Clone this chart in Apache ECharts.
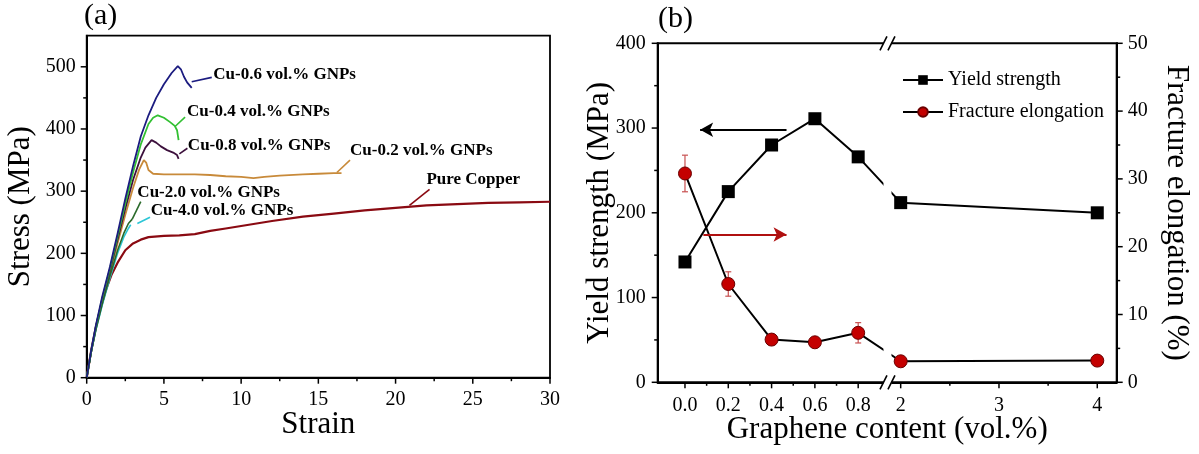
<!DOCTYPE html>
<html>
<head>
<meta charset="utf-8">
<script src="https://cdn.jsdelivr.net/npm/echarts@6/dist/echarts.min.js"></script>
<style>
  html, body { margin: 0; padding: 0; background: #fff; }
  #main { width: 1199px; height: 454px; }
</style>
</head>
<body>
<div id="main"></div>
<script>
// ---- panel (a): stress-strain curves, [strain, stress MPa] ----
const pureCopper = [[0,0],[0.3,45],[0.6,82],[0.9,112],[1.2,138],[1.6,165],[2,185],[2.5,205],[3,216],[3.5,222],[4,226],[5,228],[6,229],[7,231],[8,236],[9,240],[10,244],[12,252],[14,259],[16,264],[18,269],[20,273],[22,277],[24,279],[26,281],[28,282],[30,283]];
const cu02 = [[0,0],[0.3,43],[0.6,80],[1,122],[1.5,168],[2,216],[2.5,262],[3,305],[3.4,335],[3.7,350],[3.85,346],[4,334],[4.3,328],[5,327],[6,327],[7,327],[8,326],[9,324],[10,323],[10.8,321],[11.5,323],[12.5,325],[14,327],[15,328],[16,329],[16.5,329]];
const cu04 = [[0,0],[0.3,44],[0.6,83],[1,127],[1.5,175],[2,227],[2.5,280],[3,330],[3.5,375],[4,408],[4.3,418],[4.6,422],[5,418],[5.4,411],[5.7,405],[5.85,398],[5.95,382]];
const cu06 = [[0,0],[0.3,45],[0.6,85],[1,130],[1.5,178],[2,232],[2.5,288],[3,340],[3.5,388],[4,422],[4.5,450],[5,472],[5.5,490],[5.9,501],[6.1,496],[6.3,484],[6.5,475],[6.8,466]];
const cu08 = [[0,0],[0.3,44],[0.6,82],[1,125],[1.5,172],[2,222],[2.5,272],[3,318],[3.5,354],[3.8,370],[4.2,382],[4.5,378],[4.8,372],[5.2,366],[5.6,362],[5.85,358],[5.95,352]];
const cu20 = [[0,0],[0.3,42],[0.6,78],[1,118],[1.5,163],[2,205],[2.4,232],[2.7,248],[2.95,255]];
const cu40 = [[0,0],[0.3,42],[0.6,77],[1,116],[1.5,160],[2,200],[2.4,226],[2.7,240],[2.85,246]];

const strainTicks = [0, 5, 10, 15, 20, 25, 30];
const strainMinor = [2.5, 7.5, 12.5, 17.5, 22.5, 27.5];
const stressTicks = [0, 100, 200, 300, 400, 500];
const stressMinor = [50, 150, 250, 350, 450];

// ---- panel (b): yield strength / fracture elongation vs graphene content ----
const contents = [0, 0.2, 0.4, 0.6, 0.8, 2, 4];
const yieldStrength = [142, 225, 280, 311, 266, 212, 200];
const fractureElong = [30.8, 14.5, 6.3, 5.9, 7.3, 3.1, 3.2];
const fractureErr = [2.7, 1.8, 0, 0, 1.5, 0, 0];
const contentTicks = [0, 0.2, 0.4, 0.6, 0.8, 2, 3, 4];
const contentLabels = ['0.0', '0.2', '0.4', '0.6', '0.8', '2', '3', '4'];
const contentMinor = [0.1, 0.3, 0.5, 0.7, 2.5, 3.5];
const ysTicks = [0, 100, 200, 300, 400];
const ysMinor = [50, 150, 250, 350];
const feTicks = [0, 10, 20, 30, 40, 50];
const feMinor = [5, 15, 25, 35, 45];

const FONT = 'Liberation Serif';

// broken x axis: 0..0.8 linear, then 2..4 compressed after the break
function pos(c) { return c <= 0.8 ? c : 0.9963 + (c - 2) * 0.454; }
const BREAK_AT = 0.9353;
const XB_MIN = -0.126, XB_MAX = 1.994;

const curves = [
  { name: 'Pure Copper', data: pureCopper, color: '#8a0a12', width: 2.2,
    leader: [[20.9, 277], [22.2, 303]], label: [22.0, 318], text: 'Pure Copper' },
  { name: 'Cu-0.2', data: cu02, color: '#c88a3a', width: 1.8,
    leader: [[16.2, 330], [17.05, 350]], label: [17.05, 366], text: 'Cu-0.2 vol.% GNPs' },
  { name: 'Cu-4.0', data: cu40, color: '#2cc6d6', width: 1.6,
    leader: [[3.28, 248], [4.1, 258]], label: [4.14, 269], text: 'Cu-4.0 vol.% GNPs' },
  { name: 'Cu-2.0', data: cu20, color: '#2a6a2a', width: 1.6,
    leader: [[2.95, 255], [3.5, 283]], label: [3.28, 297], text: 'Cu-2.0 vol.% GNPs' },
  { name: 'Cu-0.8', data: cu08, color: '#3c103c', width: 1.8,
    leader: [[6.0, 360], [6.52, 369]], label: [6.55, 374], text: 'Cu-0.8 vol.% GNPs' },
  { name: 'Cu-0.4', data: cu04, color: '#33c033', width: 1.8,
    leader: [[5.72, 404], [6.37, 419]], label: [6.5, 428], text: 'Cu-0.4 vol.% GNPs' },
  { name: 'Cu-0.6', data: cu06, color: '#1c1c80', width: 1.8,
    leader: [[6.8, 476], [8.1, 483]], label: [8.2, 487], text: 'Cu-0.6 vol.% GNPs' }
];

const tickLabel = { color: '#000', fontFamily: FONT, fontSize: 20 };
const axisLine = { show: true, onZero: false, lineStyle: { color: '#000', width: 2 } };
const nameStyle = { color: '#000', fontFamily: FONT, fontSize: 31 };

const seriesA = curves.map(c => ({
  name: c.name,
  type: 'line',
  xAxisIndex: 0,
  yAxisIndex: 0,
  data: c.data,
  showSymbol: false,
  symbol: 'none',
  lineStyle: { color: c.color, width: c.width },
  itemStyle: { color: c.color },
  markLine: {
    silent: true, symbol: 'none',
    lineStyle: { color: c.color, width: 1.6, type: 'solid' },
    label: { show: false },
    data: [[{ coord: c.leader[0] }, { coord: c.leader[1] }]]
  },
  markPoint: {
    silent: true,
    data: [{
      coord: c.label, symbol: 'circle', symbolSize: 0,
      label: { show: true, position: 'right', distance: 0, formatter: c.text,
               color: '#000', fontFamily: FONT, fontSize: 17, fontWeight: 'bold' }
    }]
  }
}));

const seriesB = [
  {
    name: 'error',
    type: 'custom',
    xAxisIndex: 1,
    yAxisIndex: 2,
    z: 1,
    data: contents.map((c, i) => [pos(c), fractureElong[i] - fractureErr[i], fractureElong[i] + fractureErr[i]])
                  .filter(d => d[2] > d[1]),
    renderItem: function (params, api) {
      const x = api.value(0);
      const lo = api.coord([x, api.value(1)]);
      const hi = api.coord([x, api.value(2)]);
      const st = { stroke: '#c85050', lineWidth: 1.2 };
      return { type: 'group', children: [
        { type: 'line', shape: { x1: lo[0], y1: lo[1], x2: hi[0], y2: hi[1] }, style: st },
        { type: 'line', shape: { x1: lo[0] - 3, y1: lo[1], x2: lo[0] + 3, y2: lo[1] }, style: st },
        { type: 'line', shape: { x1: hi[0] - 3, y1: hi[1], x2: hi[0] + 3, y2: hi[1] }, style: st }
      ] };
    }
  },
  {
    name: 'Yield strength',
    type: 'line',
    xAxisIndex: 1,
    yAxisIndex: 1,
    data: contents.map((c, i) => [pos(c), yieldStrength[i]]),
    symbol: 'rect',
    symbolSize: 13,
    lineStyle: { color: '#000', width: 2 },
    itemStyle: { color: '#000' },
    markLine: {
      silent: true, symbol: ['none', 'arrow'], symbolSize: [11, 13],
      lineStyle: { color: '#000', width: 2, type: 'solid' },
      label: { show: false },
      data: [[{ coord: [pos(0.469), 298] }, { coord: [pos(0.07), 298] }]]
    }
  },
  {
    name: 'Fracture elongation',
    type: 'line',
    xAxisIndex: 1,
    yAxisIndex: 2,
    data: contents.map((c, i) => [pos(c), fractureElong[i]]),
    symbol: 'circle',
    symbolSize: 13,
    lineStyle: { color: '#000', width: 2 },
    itemStyle: { color: '#c40000', borderColor: '#6a0000', borderWidth: 1 },
    markLine: {
      silent: true, symbol: ['none', 'arrow'], symbolSize: [11, 13],
      lineStyle: { color: '#b01010', width: 2, type: 'solid' },
      label: { show: false },
      data: [[{ coord: [pos(0.085), 21.8] }, { coord: [pos(0.469), 21.8] }]]
    }
  }
];

function nearestLabel(v) {
  let best = 0;
  contentTicks.forEach((c, i) => { if (Math.abs(pos(c) - v) < Math.abs(pos(contentTicks[best]) - v)) best = i; });
  return contentLabels[best];
}

const option = {
  animation: false,
  backgroundColor: '#fff',
  textStyle: { fontFamily: FONT },
  grid: [
    { left: 86.7, top: 35.7, width: 463.3, height: 342, show: true, borderColor: '#000', borderWidth: 1.8,
      backgroundColor: 'transparent', outerBoundsMode: 'none', containLabel: false },
    { left: 657.7, top: 43.3, width: 459, height: 339, show: true, borderColor: '#000', borderWidth: 2,
      backgroundColor: 'transparent', outerBoundsMode: 'none', containLabel: false }
  ],
  legend: {
    data: ['Yield strength', 'Fracture elongation'],
    orient: 'vertical',
    left: 897,
    top: 64,
    itemWidth: 40,
    itemHeight: 12,
    itemGap: 10,
    textStyle: { color: '#000', fontFamily: FONT, fontSize: 20, lineHeight: 22 }
  },
  xAxis: [
    { gridIndex: 0, type: 'value', position: 'bottom', min: 0, max: 30,
      axisLine: axisLine, splitLine: { show: false }, axisTick: { show: false },
      axisLabel: Object.assign({ margin: 12, customValues: strainTicks }, tickLabel),
      name: 'Strain', nameLocation: 'middle', nameGap: 32, nameMoveOverlap: false, nameTextStyle: nameStyle },
    { gridIndex: 1, type: 'value', position: 'bottom', min: XB_MIN, max: XB_MAX,
      axisLine: axisLine, splitLine: { show: false }, axisTick: { show: false },
      axisLabel: Object.assign({ margin: 13, customValues: contentTicks.map(pos), formatter: nearestLabel }, tickLabel),
      name: 'Graphene content (vol.%)', nameLocation: 'middle', nameGap: 32, nameMoveOverlap: false, nameTextStyle: nameStyle }
  ],
  yAxis: [
    { gridIndex: 0, type: 'value', position: 'left', min: 0, max: 550,
      axisLine: axisLine, splitLine: { show: false }, axisTick: { show: false },
      axisLabel: Object.assign({ margin: 11, customValues: stressTicks }, tickLabel),
      name: 'Stress (MPa)', nameLocation: 'middle', nameGap: 50, nameMoveOverlap: false, nameTextStyle: nameStyle },
    { gridIndex: 1, type: 'value', position: 'left', min: 0, max: 400,
      axisLine: axisLine, splitLine: { show: false }, axisTick: { show: false },
      axisLabel: Object.assign({ margin: 12, customValues: ysTicks }, tickLabel),
      name: 'Yield strength (MPa)', nameLocation: 'middle', nameGap: 42, nameMoveOverlap: false, nameTextStyle: nameStyle },
    { gridIndex: 1, type: 'value', position: 'right', min: 0, max: 50,
      axisLine: axisLine, splitLine: { show: false }, axisTick: { show: false },
      axisLabel: Object.assign({ margin: 11, customValues: feTicks }, tickLabel),
      name: 'Fracture elongation (%)', nameLocation: 'middle', nameRotate: -90, nameGap: 44, nameMoveOverlap: false,
      nameTextStyle: nameStyle }
  ],
  series: seriesA.concat(seriesB)
};

const chart = echarts.init(document.getElementById('main'), null, { renderer: 'canvas' });
chart.setOption(option);

// tick marks placed through the axes' own scales
const px = (i, v) => chart.convertToPixel({ xAxisIndex: i }, v);
const py = (i, v) => chart.convertToPixel({ yAxisIndex: i }, v);
const tickStyle = { stroke: '#000', lineWidth: 1.5 };
const gfx = [];
function xTicks(i, values, yBase, len) {
  values.forEach(v => { const x = px(i, v);
    gfx.push({ type: 'line', z: 50, shape: { x1: x, y1: yBase, x2: x, y2: yBase + len }, style: tickStyle }); });
}
function yTicks(i, values, xBase, len) {
  values.forEach(v => { const y = py(i, v);
    gfx.push({ type: 'line', z: 50, shape: { x1: xBase, y1: y, x2: xBase + len, y2: y }, style: tickStyle }); });
}
const aBottom = py(0, 0), aLeft = px(0, 0);
xTicks(0, strainTicks, aBottom, 6); xTicks(0, strainMinor, aBottom, 3.5);
yTicks(0, stressTicks, aLeft, -6); yTicks(0, stressMinor, aLeft, -3.5);
const bBottom = py(1, 0), bTop = py(1, 400), bLeft = px(1, XB_MIN), bRight = px(1, XB_MAX);
xTicks(1, contentTicks.map(pos), bBottom, 6); xTicks(1, contentMinor.map(pos), bBottom, 3.5);
yTicks(1, ysTicks, bLeft, -6); yTicks(1, ysMinor, bLeft, -3.5);
yTicks(2, feTicks, bRight, 6); yTicks(2, feMinor, bRight, 3.5);

// axis break and panel letters
const bx = px(1, BREAK_AT);
const slash = (cx, cy) => ({
  type: 'line', z: 101,
  shape: { x1: cx - 3.5, y1: cy + 7, x2: cx + 3.5, y2: cy - 7 },
  style: { stroke: '#000', lineWidth: 1.6 }
});
gfx.push(
  { type: 'text', left: 84, top: 1, z: 100,
    style: { text: '(a)', fill: '#000', font: '30px "Liberation Serif"' } },
  { type: 'text', left: 658, top: 4, z: 100,
    style: { text: '(b)', fill: '#000', font: '30px "Liberation Serif"' } },
  { type: 'rect', z: 100, shape: { x: bx - 4, y: bTop - 3, width: 8, height: bBottom - bTop + 6 },
    style: { fill: '#fff' } },
  slash(bx - 4, bTop), slash(bx + 4, bTop),
  slash(bx - 4, bBottom), slash(bx + 4, bBottom)
);
chart.setOption({ graphic: gfx });
</script>
</body>
</html>
